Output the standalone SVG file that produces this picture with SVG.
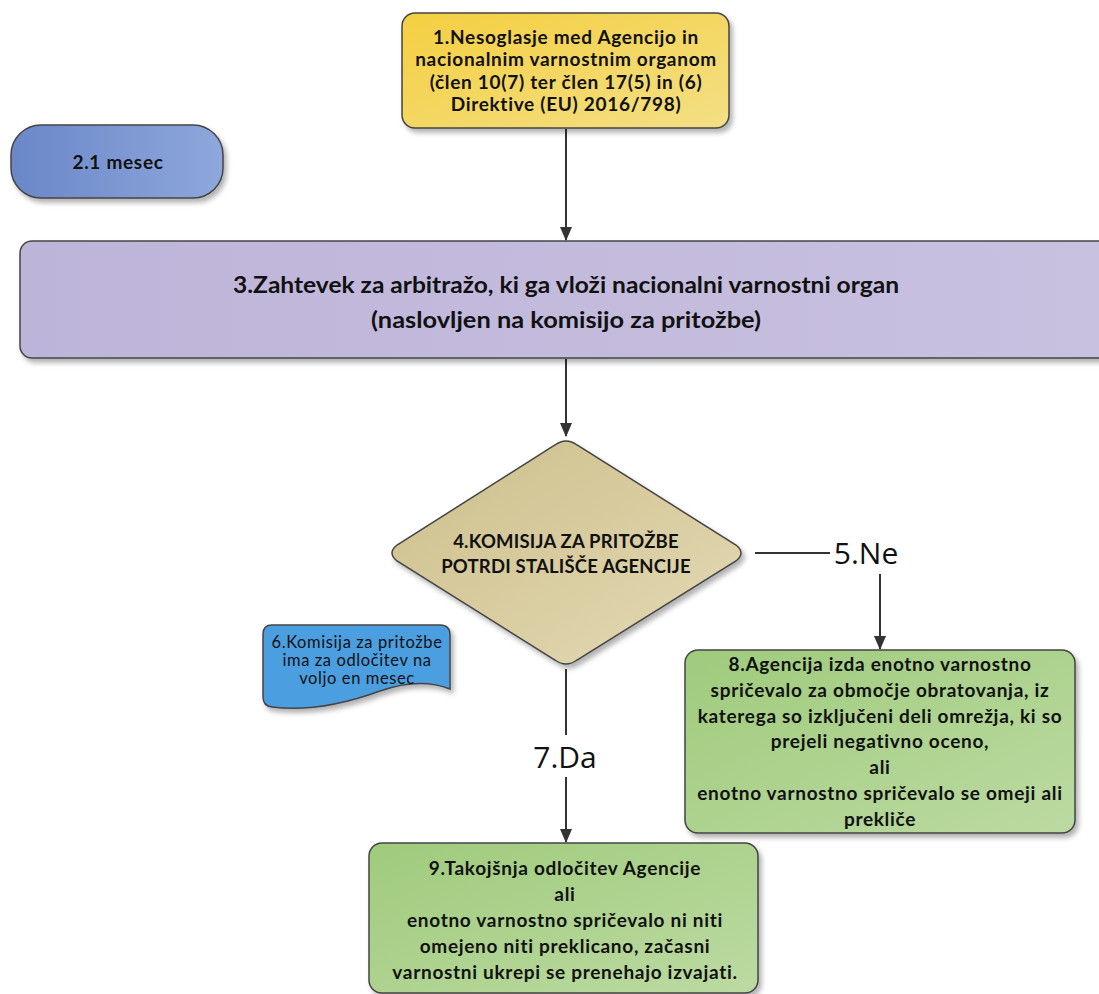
<svg xmlns="http://www.w3.org/2000/svg" width="1099" height="994" viewBox="0 0 1099 994">
<style>
.b{font-family:Lato,"Liberation Sans",sans-serif;font-weight:bold;fill:#111;text-anchor:middle;font-size:19px;letter-spacing:0.7px}
.r{font-family:Lato,"Liberation Sans",sans-serif;fill:#111;text-anchor:middle;font-size:16.5px;letter-spacing:0.6px}
.big{font-size:23px;letter-spacing:0}
.dia{font-size:18.5px;letter-spacing:0.2px}
.lbl{font-family:"Open Sans","Liberation Sans",sans-serif;font-size:30px;fill:#111;text-anchor:middle}
.sh{stroke:#444;stroke-width:1.5}
.con{stroke:#333;stroke-width:2;fill:none}
</style>
<defs>
<filter id="ds" x="-10%" y="-10%" width="125%" height="130%">
<feDropShadow dx="3" dy="4" stdDeviation="2.5" flood-color="#000" flood-opacity="0.3"/>
</filter>
<linearGradient id="gY" x1="0" y1="0" x2="1" y2="1"><stop offset="0" stop-color="#f5cf40"/><stop offset="1" stop-color="#f3df85"/></linearGradient>
<linearGradient id="gB" x1="0" y1="0" x2="1" y2="0"><stop offset="0" stop-color="#6a87c8"/><stop offset="1" stop-color="#8ea7dc"/></linearGradient>
<linearGradient id="gP" x1="0" y1="0" x2="1" y2="0"><stop offset="0" stop-color="#bdb4d9"/><stop offset="1" stop-color="#c9c1e0"/></linearGradient>
<linearGradient id="gT" x1="0" y1="0" x2="1" y2="1"><stop offset="0" stop-color="#cdbf8c"/><stop offset="1" stop-color="#e3d9b3"/></linearGradient>
<linearGradient id="gG" x1="0" y1="0" x2="1" y2="1"><stop offset="0" stop-color="#9fcb7c"/><stop offset="1" stop-color="#bcdaa2"/></linearGradient>
<marker id="ah" markerWidth="14" markerHeight="12" refX="13" refY="6" orient="auto" markerUnits="userSpaceOnUse">
<path d="M0,0 L14,6 L0,12 z" fill="#333"/>
</marker>
</defs>

<g id="connectors">
<line class="con" x1="566" y1="129" x2="566" y2="240" marker-end="url(#ah)"/>
<line class="con" x1="566" y1="359" x2="566" y2="436" marker-end="url(#ah)"/>
<line class="con" x1="755" y1="553" x2="830" y2="553"/>
<text class="lbl" x="866" y="564">5.Ne</text>
<line class="con" x1="880" y1="574" x2="880" y2="649" marker-end="url(#ah)"/>
<line class="con" x1="566" y1="669" x2="566" y2="735"/>
<text class="lbl" x="565" y="768">7.Da</text>
<line class="con" x1="566" y1="777" x2="566" y2="842" marker-end="url(#ah)"/>
</g>

<g id="n1">
<rect class="sh" x="402" y="13" width="327" height="115" rx="13" fill="url(#gY)" filter="url(#ds)"/>
<text class="b"><tspan x="566" y="44">1.Nesoglasje med Agencijo in</tspan><tspan x="566" y="66">nacionalnim varnostnim organom</tspan><tspan x="566" y="89">(člen 10(7) ter člen 17(5) in (6)</tspan><tspan x="566" y="111">Direktive (EU) 2016/798)</tspan></text>
</g>

<g id="n2">
<rect class="sh" x="11" y="125" width="212" height="73" rx="30" fill="url(#gB)" filter="url(#ds)"/>
<text class="b" x="118" y="169">2.1 mesec</text>
</g>

<g id="n3">
<rect class="sh" x="20" y="241" width="1095" height="117" rx="12" fill="url(#gP)" filter="url(#ds)"/>
<text class="b big" x="566" y="293" textLength="666" lengthAdjust="spacingAndGlyphs">3.Zahtevek za arbitražo, ki ga vloži nacionalni varnostni organ</text>
<text class="b big" x="566" y="328" textLength="390" lengthAdjust="spacingAndGlyphs">(naslovljen na komisijo za pritožbe)</text>
</g>

<g id="n4">
<path class="sh" d="M555,445 Q566,437 577,445 L736,545 Q746,553 736,561 L577,660 Q566,668 555,660 L397,561 Q387,553 397,545 Z" fill="url(#gT)" filter="url(#ds)"/>
<text class="b dia"><tspan x="566" y="548">4.KOMISIJA ZA PRITOŽBE</tspan><tspan x="566" y="573">POTRDI STALIŠČE AGENCIJE</tspan></text>
</g>

<g id="n6">
<path class="sh" d="M272,625 L440,625 Q450,625 450,635 L450,689 Q420,677 380,691 Q320,713 272,707 Q263,706 263,697 L263,634 Q263,625 272,625 Z" fill="#4c9fe0" filter="url(#ds)"/>
<text class="r"><tspan x="357" y="648">6.Komisija za pritožbe</tspan><tspan x="357" y="666">ima za odločitev na</tspan><tspan x="357" y="684">voljo en mesec</tspan></text>
</g>

<g id="n8">
<rect class="sh" x="685" y="650" width="390" height="183" rx="13" fill="url(#gG)" filter="url(#ds)"/>
<text class="b"><tspan x="880" y="671">8.Agencija izda enotno varnostno</tspan><tspan x="880" y="697">spričevalo za območje obratovanja, iz</tspan><tspan x="880" y="723">katerega so izključeni deli omrežja, ki so</tspan><tspan x="880" y="748">prejeli negativno oceno,</tspan><tspan x="880" y="774">ali</tspan><tspan x="880" y="800">enotno varnostno spričevalo se omeji ali</tspan><tspan x="880" y="826">prekliče</tspan></text>
</g>

<g id="n9">
<rect class="sh" x="369" y="843" width="389" height="150" rx="13" fill="url(#gG)" filter="url(#ds)"/>
<text class="b"><tspan x="565" y="875">9.Takojšnja odločitev Agencije</tspan><tspan x="565" y="901">ali</tspan><tspan x="565" y="927">enotno varnostno spričevalo ni niti</tspan><tspan x="565" y="953">omejeno niti preklicano, začasni</tspan><tspan x="565" y="979">varnostni ukrepi se prenehajo izvajati.</tspan></text>
</g>
</svg>
